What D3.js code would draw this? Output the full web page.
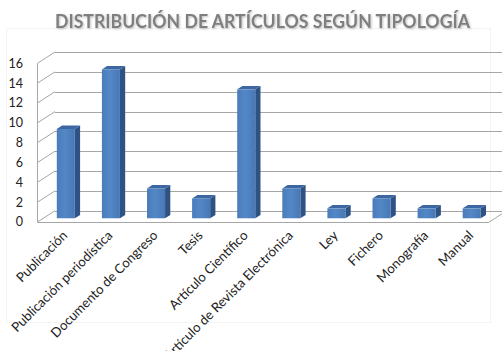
<!DOCTYPE html>
<html>
<head>
<meta charset="utf-8">
<script src="https://cdn.jsdelivr.net/npm/d3@7"></script>
<style>
  html, body { margin: 0; padding: 0; background: #fff; }
  svg { display: block; }
</style>
</head>
<body>
<svg id="chart" width="502" height="351"></svg>
<script>
// Article counts by document type
const categories = [
  "Publicación", "Publicación periodística", "Documento de Congreso", "Tesis",
  "Artículo Científico", "Artículo de Revista Electrónica", "Ley", "Fichero",
  "Monografía", "Manual"
];
const counts = [9, 15, 3, 2, 13, 3, 1, 2, 1, 1];
const yTicks = [0, 2, 4, 6, 8, 10, 12, 14, 16];
const title = "DISTRIBUCIÓN DE ARTÍCULOS SEGÚN TIPOLOGÍA";

const svg = d3.select("#chart");
const W = 502, H = 351;

// faint chart-area frame
svg.append("rect")
  .attr("x", 6.5).attr("y", 28.5).attr("width", 484).attr("height", 294)
  .attr("fill", "none").attr("stroke", "#f3f3f3");

// oblique depth of the 3D box (front plane -> back wall)
const depth = { dx: 17.5, dy: -11.3 };
const barFront = 0.33, barBack = 0.63;

const x = d3.scaleBand()
  .domain(categories)
  .range([37.5, 488.5])
  .paddingInner(0.6)
  .paddingOuter(0.3);
const y = d3.scaleLinear().domain([0, 16]).range([222, 63.3]);

const grid = svg.append("g").attr("stroke", "#a6a6a6").attr("stroke-width", 1).attr("fill", "none");

// back wall gridlines
grid.selectAll("line.back").data(yTicks).join("line")
  .attr("class", "back")
  .attr("x1", 37.5 + depth.dx).attr("x2", W + 2)
  .attr("y1", d => Math.round(y(d) + depth.dy) + 0.5)
  .attr("y2", d => Math.round(y(d) + depth.dy) + 0.5);

// side wall gridlines
grid.selectAll("line.side").data(yTicks).join("line")
  .attr("class", "side")
  .attr("x1", 37.5).attr("y1", d => y(d))
  .attr("x2", 37.5 + depth.dx).attr("y2", d => y(d) + depth.dy);

// left wall front edge
grid.append("line")
  .attr("x1", 37.5).attr("x2", 37.5)
  .attr("y1", y(0)).attr("y2", y(16));

// floor front edge and right edge
grid.append("polyline")
  .attr("points", [
    [37.5, y(0) + 0.5], [488.5, y(0) + 0.5],
    [488.5 + depth.dx, y(0) + 0.5 + depth.dy]
  ].map(p => p.join(",")).join(" "));

// gradient for bar fronts
const defs = svg.append("defs");
const grad = defs.append("linearGradient").attr("id", "barFront")
  .attr("x1", "0").attr("x2", "1").attr("y1", "0").attr("y2", "0");
grad.append("stop").attr("offset", "0%").attr("stop-color", "#4a7cba");
grad.append("stop").attr("offset", "45%").attr("stop-color", "#5387c6");
grad.append("stop").attr("offset", "100%").attr("stop-color", "#4878b6");

const shadow = defs.append("filter").attr("id", "titleShadow")
  .attr("x", "-5%").attr("y", "-30%").attr("width", "110%").attr("height", "160%");
shadow.append("feDropShadow").attr("dx", 1).attr("dy", 1).attr("stdDeviation", 0.8)
  .attr("flood-color", "#000").attr("flood-opacity", 0.25);

// 3D bars
const bars = svg.append("g");
const fx = barFront * depth.dx, fy = barFront * depth.dy;
const bx = (barBack - barFront) * depth.dx, by = (barBack - barFront) * depth.dy;

categories.forEach((c, i) => {
  const v = counts[i];
  const x0 = x(c) + fx, x1 = x0 + x.bandwidth();
  const yb = y(0) + fy, yt = y(v) + fy;
  const g = bars.append("g");
  // right side
  g.append("path")
    .attr("d", `M${x1},${yt}L${x1 + bx},${yt + by}L${x1 + bx},${yb + by}L${x1},${yb}Z`)
    .attr("fill", "#2f5284");
  // top
  g.append("path")
    .attr("d", `M${x0},${yt}L${x0 + bx},${yt + by}L${x1 + bx},${yt + by}L${x1},${yt}Z`)
    .attr("fill", "#3c67a2");
  // front
  g.append("rect")
    .attr("x", x0).attr("y", yt)
    .attr("width", x.bandwidth()).attr("height", yb - yt)
    .attr("fill", "url(#barFront)");
});

// value axis labels
svg.append("g").selectAll("text").data(yTicks).join("text")
  .attr("x", 23).attr("y", d => y(d))
  .attr("dy", "0.35em")
  .attr("text-anchor", "end")
  .attr("font-family", "Lato, 'Open Sans', sans-serif")
  .attr("font-size", 12.5)
  .attr("fill", "#222")
  .text(d => d);

// category labels, rotated
svg.append("g").selectAll("text").data(categories).join("text")
  .attr("transform", c => `translate(${x(c) + x.bandwidth() / 2 + 5},${233}) rotate(-45)`)
  .attr("text-anchor", "end")
  .attr("dy", "0.35em")
  .attr("font-family", "Lato, 'Open Sans', sans-serif")
  .attr("font-size", 13.2)
  .attr("fill", "#222")
  .text(c => c);

// title
svg.append("text")
  .attr("x", 55).attr("y", 28)
  .attr("textLength", 415)
  .attr("lengthAdjust", "spacingAndGlyphs")
  .attr("font-family", "Lato, 'Open Sans', sans-serif")
  .attr("font-weight", "bold")
  .attr("font-size", 18.5)
  .attr("fill", "#7f7f7f")
  .attr("filter", "url(#titleShadow)")
  .text(title);
</script>
</body>
</html>
